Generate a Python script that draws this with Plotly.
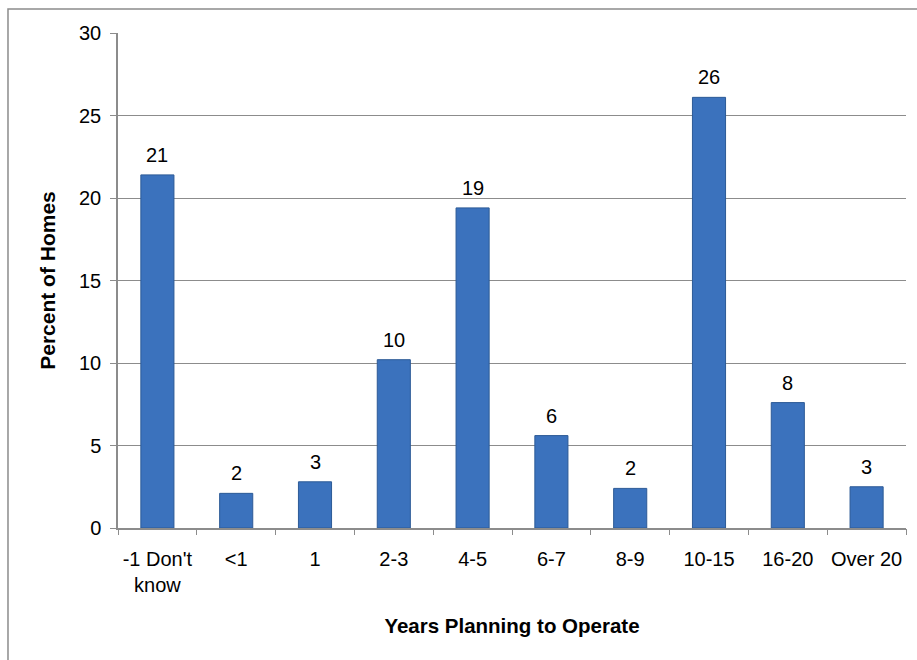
import plotly.graph_objects as go

categories = ["-1 Don't<br>know", "<1", "1", "2-3", "4-5", "6-7", "8-9", "10-15", "16-20", "Over 20"]
values = [21.4, 2.1, 2.8, 10.2, 19.4, 5.6, 2.4, 26.1, 7.6, 2.5]
labels = ["21", "2", "3", "10", "19", "6", "2", "26", "8", "3"]
y_ticks = [0, 5, 10, 15, 20, 25, 30]

FONT = "Liberation Sans, Arial, sans-serif"
GRID = "#8c8c8c"

fig = go.Figure()
fig.add_trace(go.Bar(
    x=list(range(len(categories))), y=values,
    marker=dict(color="#3b72bd", line=dict(color="#2c5a96", width=1)),
    width=0.42,
    cliponaxis=False,
    hoverinfo="skip",
))

for i, (v, t) in enumerate(zip(values, labels)):
    fig.add_annotation(x=i, y=v, text=t, showarrow=False, yanchor="bottom",
                       yshift=7, font=dict(family=FONT, size=20, color="#000"))

fig.add_shape(type="rect", xref="paper", yref="paper",
              x0=-0.1396, y0=-0.5, x1=1.2, y1=1.0485,
              line=dict(color="#8c8c8c", width=1.5), fillcolor="rgba(0,0,0,0)", layer="below")

fig.update_layout(
    width=917, height=660,
    margin=dict(l=118, r=11, t=33, b=132),
    paper_bgcolor="white", plot_bgcolor="white",
    showlegend=False,
    font=dict(family=FONT, color="#000"),
    xaxis=dict(
        range=[-0.5, len(categories) - 0.5],
        tickmode="array", tickvals=list(range(len(categories))), ticktext=categories,
        showline=True, linecolor=GRID, linewidth=1.5,
        ticks="", ticklabelstandoff=12,
        tickfont=dict(family=FONT, size=20, color="#000"),
        title=dict(text="<b>Years Planning to Operate</b>", font=dict(family=FONT, size=20.5, color="#000"), standoff=24),
        showgrid=False, zeroline=False,
    ),
    xaxis2=dict(
        overlaying="x", matches="x", range=[-0.5, len(categories) - 0.5],
        tickmode="array", tickvals=[i - 0.5 for i in range(len(categories) + 1)],
        ticktext=["" for _ in range(len(categories) + 1)],
        ticks="outside", ticklen=6, tickcolor=GRID, tickwidth=1.3,
        side="bottom", anchor="y", showgrid=False, zeroline=False, showline=False,
    ),
    yaxis=dict(
        range=[0, 30], tickvals=y_ticks,
        showline=True, linecolor=GRID, linewidth=1.5,
        ticks="outside", ticklen=6, tickcolor=GRID, tickwidth=1.3,
        showgrid=True, gridcolor=GRID, gridwidth=1.3,
        zeroline=False,
        tickfont=dict(family=FONT, size=20, color="#000"),
        ticklabelstandoff=5,
        title=dict(text="<b>Percent of Homes</b>", font=dict(family=FONT, size=21, color="#000"), standoff=18),
    ),
)
fig.add_trace(go.Scatter(x=[0], y=[0], xaxis="x2", mode="markers", marker=dict(opacity=0), hoverinfo="skip", showlegend=False))

fig.write_html("out.html")
